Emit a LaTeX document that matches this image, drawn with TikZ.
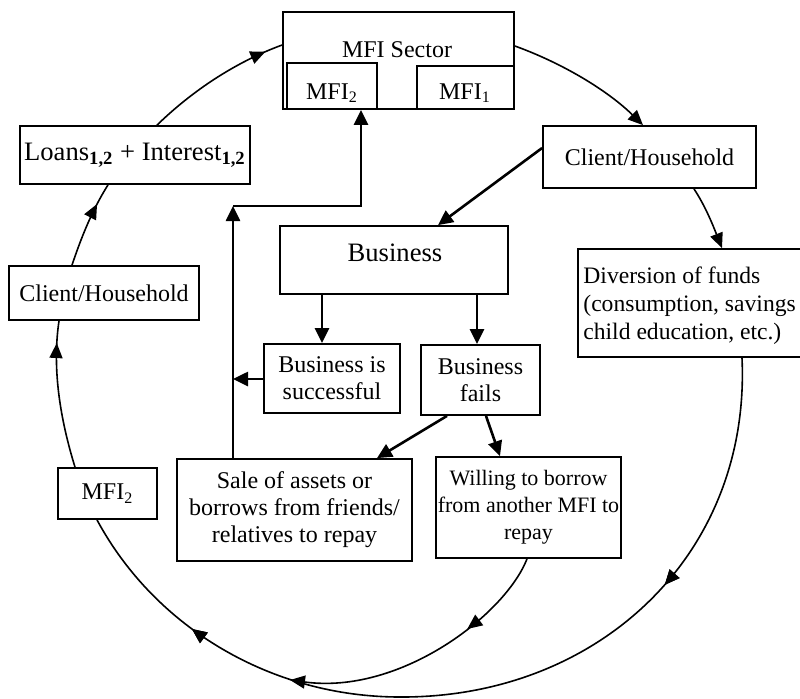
\documentclass[tikz,border=0pt]{standalone}
\usepackage{fontspec}
\setmainfont{Liberation Serif}
\usetikzlibrary{arrows.meta,decorations.markings}
\begin{document}
\begin{tikzpicture}[x=0.5pt,y=-0.5pt,
  box/.style={draw, line width=0.9pt, inner sep=0pt, align=center, font=\fontsize{12}{13.5}\selectfont},
  txt/.style={inner sep=0pt, font=\fontsize{12}{13.5}\selectfont},
  conn/.style={line width=1.3pt, -{Triangle[length=7.5pt,width=7pt]}},
  arcl/.style={line width=0.8pt},
  arcend/.style={line width=0.8pt, -{Triangle[length=7.5pt,width=6.5pt]}},
  midarrow/.style={postaction={decorate}, decoration={markings, mark=at position #1 with {\arrow{Triangle[length=7.5pt,width=6.5pt]}}}},
]
\useasboundingbox (0,0) rectangle (800,698);

% MFI sector
\node[box, minimum width=115.5pt, minimum height=48.5pt] (mfi) at (398.5,60.5) {};
\node[txt] (mfit) at (397,49.5) {MFI Sector};
\node[box, minimum width=45pt, minimum height=23pt] (mfi2) at (332,86) {};
\node[txt] (mfi2t) at (332,93) {MFI\textsubscript{2}};
\node[box, minimum width=48.5pt, minimum height=21.5pt] (mfi1) at (465.5,87.5) {};
\node[txt] (mfi1t) at (465,93) {MFI\textsubscript{1}};

% other boxes
\node[box, minimum width=115pt, minimum height=29pt, font=\fontsize{13.3}{15}\selectfont] (loans) at (135,155) {Loans\textsubscript{\textbf{1,2}} + Interest\textsubscript{\textbf{1,2}}};
\node[box, minimum width=106.5pt, minimum height=31pt] (cr) at (649.5,157) {Client/Household};
\node[box, minimum width=126pt, minimum height=54pt] (div) at (704,303) {};
\node[txt, anchor=west, align=left, font=\fontsize{11.8}{14}\selectfont] (divt) at (583,306) {Diversion of funds\\(consumption, savings\\child education, etc.)};
\node[box, minimum width=114pt, minimum height=34pt] (bus) at (394,260) {};
\node[txt, font=\fontsize{13.3}{15}\selectfont] (bust) at (395,253) {Business};
\node[box, minimum width=68pt, minimum height=34.5pt] (succ) at (332,378.5) {Business is\\successful};
\node[box, minimum width=59.5pt, minimum height=35pt] (fails) at (480.5,380) {Business\\fails};
\node[box, minimum width=117.5pt, minimum height=51pt] (sale) at (294.5,510) {Sale of assets or\\borrows from friends/\\relatives to repay};
\node[box, minimum width=92.5pt, minimum height=50.5pt, font=\fontsize{11}{13.5}\selectfont] (will) at (528.5,507.5) {Willing to borrow\\from another MFI to\\repay};
\node[box, minimum width=95pt, minimum height=27pt] (cl) at (104,293) {Client/Household};
\node[box, minimum width=49.5pt, minimum height=25.5pt] (m2) at (107.5,493.5) {MFI\textsubscript{2}};

% free points
\coordinate (J) at (290,680);
\coordinate (K) at (233,379);
\coordinate (C) at (233,206);

% straight connectors
\draw[conn] (cr.west |- 0,148) -- (bus.north -| 438,0);
\draw[conn] (bus.south -| 322,0) -- (succ.north -| 322,0);
\draw[conn] (bus.south -| 477,0) -- (fails.north -| 477,0);
\draw[conn] (fails.south -| 447,0) -- (sale.north -| 377,0);
\draw[conn] (fails.south -| 486,0) -- (will.north -| 500,0);
\draw[conn] (succ.west |- 0,379) -- (K);
\draw[conn] (sale.north -| 233,0) -- (C);
\draw[conn] (C) -| (mfi2.south -| 361,0);

% circle arcs
\draw[arcend] (mfi.east |- 0,46) .. controls (562,63) and (607,90) .. (cr.north -| 643,0);
\draw[arcend] (cr.south -| 694,0) .. controls (706,207) and (714,228) .. (div.north -| 722,0);
\draw[arcl, midarrow=0.27, midarrow=0.84] (div.south -| 742,0) .. controls (751,555) and (598,698) .. (400,697)
   .. controls (272.5,697) and (155.6,628.6) .. (m2.south -| 97,0);
\draw[arcend, midarrow=0.33] (will.south -| 527,0) .. controls (505,615) and (400,695) .. (J);
\draw[arcl, midarrow=0.85] (m2.north -| 75,0) .. controls (60.5,420) and (51.8,369.6) .. (cl.south -| 59,0);
\draw[arcl, midarrow=0.75] (cl.north -| 72,0) .. controls (81,238.3) and (91.9,210.4) .. (loans.south -| 108,0);
\draw[arcl, midarrow=0.88] (loans.north -| 157,0) .. controls (192.6,90.5) and (235.7,62) .. (mfi.west |- 0,45);
\end{tikzpicture}
\end{document}
